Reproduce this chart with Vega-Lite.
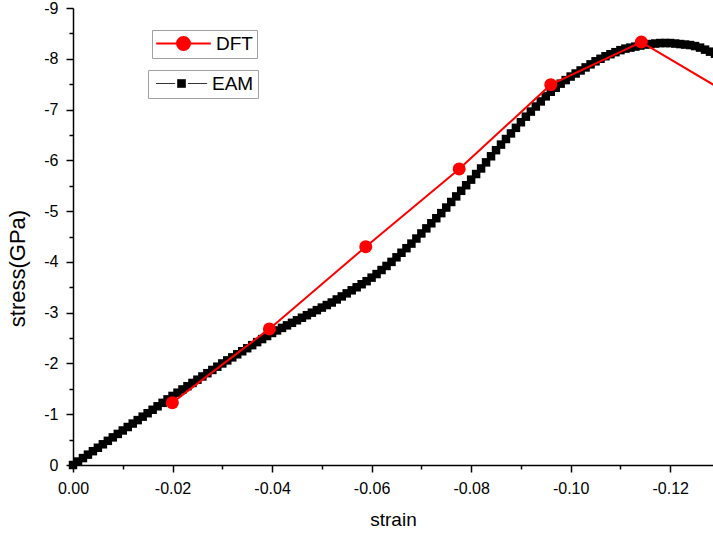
{
  "$schema": "https://vega.github.io/schema/vega-lite/v6.json",
  "width": 640,
  "height": 457,
  "autosize": {"type": "none"},
  "padding": {"left": 73, "top": 8, "right": 0, "bottom": 70},
  "background": "white",
  "config": {
    "view": {"stroke": null},
    "font": "Liberation Sans",
    "axis": {
      "domainColor": "#000", "domainWidth": 1.5, "tickColor": "#000", "tickWidth": 1.5,
      "labelColor": "#000", "labelFontSize": 16, "labelFont": "Liberation Sans",
      "titleFont": "Liberation Sans", "titleFontSize": 19, "titleFontWeight": "normal", "titleColor": "#000",
      "grid": false, "labelPadding": 8, "labelOverlap": false, "labelFlush": false
    }
  },
  "datasets": {
    "eam": [
      {"strain":0,"stress":0},{"strain":-0.001,"stress":-0.068},{"strain":-0.002,"stress":-0.136},{"strain":-0.003,"stress":-0.204},{"strain":-0.004,"stress":-0.272},{"strain":-0.005,"stress":-0.34},{"strain":-0.006,"stress":-0.408},{"strain":-0.007,"stress":-0.476},{"strain":-0.008,"stress":-0.544},{"strain":-0.009,"stress":-0.612},
      {"strain":-0.010,"stress":-0.68},{"strain":-0.011,"stress":-0.748},{"strain":-0.012,"stress":-0.816},{"strain":-0.013,"stress":-0.884},{"strain":-0.014,"stress":-0.952},{"strain":-0.015,"stress":-1.02},{"strain":-0.016,"stress":-1.088},{"strain":-0.017,"stress":-1.156},{"strain":-0.018,"stress":-1.224},{"strain":-0.019,"stress":-1.292},
      {"strain":-0.020,"stress":-1.36},{"strain":-0.021,"stress":-1.424},{"strain":-0.022,"stress":-1.488},{"strain":-0.023,"stress":-1.552},{"strain":-0.024,"stress":-1.616},{"strain":-0.025,"stress":-1.68},{"strain":-0.026,"stress":-1.744},{"strain":-0.027,"stress":-1.808},{"strain":-0.028,"stress":-1.872},{"strain":-0.029,"stress":-1.936},
      {"strain":-0.030,"stress":-2.0},{"strain":-0.031,"stress":-2.06},{"strain":-0.032,"stress":-2.12},{"strain":-0.033,"stress":-2.18},{"strain":-0.034,"stress":-2.24},{"strain":-0.035,"stress":-2.30},{"strain":-0.036,"stress":-2.36},{"strain":-0.037,"stress":-2.42},{"strain":-0.038,"stress":-2.48},{"strain":-0.039,"stress":-2.54},
      {"strain":-0.040,"stress":-2.60},{"strain":-0.041,"stress":-2.65},{"strain":-0.042,"stress":-2.70},{"strain":-0.043,"stress":-2.75},{"strain":-0.044,"stress":-2.80},{"strain":-0.045,"stress":-2.85},{"strain":-0.046,"stress":-2.90},{"strain":-0.047,"stress":-2.95},{"strain":-0.048,"stress":-3.00},{"strain":-0.049,"stress":-3.05},
      {"strain":-0.050,"stress":-3.10},{"strain":-0.051,"stress":-3.15},{"strain":-0.052,"stress":-3.20},{"strain":-0.053,"stress":-3.26},{"strain":-0.054,"stress":-3.32},{"strain":-0.055,"stress":-3.38},{"strain":-0.056,"stress":-3.44},{"strain":-0.057,"stress":-3.50},{"strain":-0.058,"stress":-3.56},{"strain":-0.059,"stress":-3.62},
      {"strain":-0.060,"stress":-3.69},{"strain":-0.061,"stress":-3.76},{"strain":-0.062,"stress":-3.84},{"strain":-0.063,"stress":-3.92},{"strain":-0.064,"stress":-4.00},{"strain":-0.065,"stress":-4.09},{"strain":-0.066,"stress":-4.18},{"strain":-0.067,"stress":-4.27},{"strain":-0.068,"stress":-4.36},{"strain":-0.069,"stress":-4.46},
      {"strain":-0.070,"stress":-4.56},{"strain":-0.071,"stress":-4.66},{"strain":-0.072,"stress":-4.76},{"strain":-0.073,"stress":-4.86},{"strain":-0.074,"stress":-4.96},{"strain":-0.075,"stress":-5.07},{"strain":-0.076,"stress":-5.18},{"strain":-0.077,"stress":-5.29},{"strain":-0.078,"stress":-5.40},{"strain":-0.079,"stress":-5.51},
      {"strain":-0.080,"stress":-5.62},{"strain":-0.081,"stress":-5.73},{"strain":-0.082,"stress":-5.84},{"strain":-0.083,"stress":-5.96},{"strain":-0.084,"stress":-6.08},{"strain":-0.085,"stress":-6.20},{"strain":-0.086,"stress":-6.31},{"strain":-0.087,"stress":-6.42},{"strain":-0.088,"stress":-6.53},{"strain":-0.089,"stress":-6.64},
      {"strain":-0.090,"stress":-6.75},{"strain":-0.091,"stress":-6.86},{"strain":-0.092,"stress":-6.96},{"strain":-0.093,"stress":-7.06},{"strain":-0.094,"stress":-7.16},{"strain":-0.095,"stress":-7.26},{"strain":-0.096,"stress":-7.35},{"strain":-0.097,"stress":-7.43},{"strain":-0.098,"stress":-7.51},{"strain":-0.099,"stress":-7.58},
      {"strain":-0.100,"stress":-7.65},{"strain":-0.101,"stress":-7.71},{"strain":-0.102,"stress":-7.77},{"strain":-0.103,"stress":-7.83},{"strain":-0.104,"stress":-7.89},{"strain":-0.105,"stress":-7.95},{"strain":-0.106,"stress":-8.00},{"strain":-0.107,"stress":-8.05},{"strain":-0.108,"stress":-8.09},{"strain":-0.109,"stress":-8.13},
      {"strain":-0.110,"stress":-8.17},{"strain":-0.111,"stress":-8.20},{"strain":-0.112,"stress":-8.22},{"strain":-0.113,"stress":-8.24},{"strain":-0.114,"stress":-8.26},{"strain":-0.115,"stress":-8.28},{"strain":-0.116,"stress":-8.29},{"strain":-0.117,"stress":-8.30},{"strain":-0.118,"stress":-8.31},{"strain":-0.119,"stress":-8.31},
      {"strain":-0.120,"stress":-8.31},{"strain":-0.121,"stress":-8.30},{"strain":-0.122,"stress":-8.29},{"strain":-0.123,"stress":-8.28},{"strain":-0.124,"stress":-8.27},{"strain":-0.125,"stress":-8.25},{"strain":-0.126,"stress":-8.22},{"strain":-0.127,"stress":-8.18},{"strain":-0.128,"stress":-8.14},{"strain":-0.129,"stress":-8.10},
      {"strain":-0.130,"stress":-8.05}
    ],
    "dft": [
      {"strain":-0.01996,"stress":-1.228},
      {"strain":-0.03946,"stress":-2.68},
      {"strain":-0.05883,"stress":-4.30},
      {"strain":-0.0776,"stress":-5.83},
      {"strain":-0.0960,"stress":-7.49},
      {"strain":-0.1142,"stress":-8.33},
      {"strain":-0.1328,"stress":-7.25}
    ]
  },
  "encoding": {
    "x": {
      "field": "strain", "type": "quantitative",
      "scale": {"domain": [-0.1286, 0], "reverse": true, "nice": false, "zero": false},
      "axis": {
        "title": "strain",
        "values": [0,-0.01,-0.02,-0.03,-0.04,-0.05,-0.06,-0.07,-0.08,-0.09,-0.1,-0.11,-0.12],
        "labelExpr": "abs(round(datum.value*100))%2==0 ? (datum.value==0 ? '0.00' : '-' + format(abs(datum.value), '.2f')) : ''",
        "tickSize": {"condition": {"test": "abs(round(datum.value*100))%2==0", "value": 7}, "value": 4},
        "titlePadding": 14
      }
    },
    "y": {
      "field": "stress", "type": "quantitative",
      "scale": {"domain": [-9, 0], "reverse": true, "nice": false, "zero": false},
      "axis": {
        "title": "stress(GPa)",
        "values": [0,-0.5,-1,-1.5,-2,-2.5,-3,-3.5,-4,-4.5,-5,-5.5,-6,-6.5,-7,-7.5,-8,-8.5,-9],
        "labelExpr": "round(datum.value*2)%2==0 ? (datum.value==0 ? '0' : '-' + format(abs(datum.value), 'd')) : ''",
        "tickSize": {"condition": {"test": "round(datum.value*2)%2==0", "value": 7}, "value": 4},
        "titleFontSize": 22,
        "titleX": -44, "titleY": 260, "titleAngle": -90, "titleBaseline": "bottom", "titleAlign": "center"
      }
    }
  },
  "layer": [
    {
      "data": {"name": "eam"},
      "mark": {"type": "point", "shape": "square", "filled": true, "size": 72, "opacity": 1},
      "encoding": {
        "color": {
          "datum": "EAM", "type": "nominal",
          "scale": {"domain": ["EAM"], "range": ["#000000"]},
          "legend": {
            "orient": "none", "legendX": 75, "legendY": 62, "title": null, "padding": 4,
            "strokeColor": "#a0a0a0", "fillColor": "white",
            "labelFontSize": 19, "labelColor": "#000", "labelFont": "Liberation Sans",
            "labelOffset": 21, "symbolOffset": 20, "symbolSize": 64,
            "symbolType": "M-6.4,0H-1.6M1.6,0H6.4M-1,-1H1V1H-1Z",
            "symbolStrokeColor": "#333", "symbolStrokeWidth": 1, "symbolFillColor": "#000",
            "encode": {"symbols": {"update": {"fill": {"value": "#000"}, "stroke": {"value": "#555"}, "strokeWidth": {"value": 0.8}, "strokeOpacity": {"value": 1}, "opacity": {"value": 1}, "shape": {"value": "M-6.4,0H-1.6M1.6,0H6.4M-1,-1H1V1H-1Z"}, "size": {"value": 64}}}}
          }
        }
      }
    },
    {
      "data": {"name": "dft"},
      "mark": {"type": "line", "strokeWidth": 2, "point": {"filled": true, "size": 169, "opacity": 1}},
      "encoding": {
        "color": {
          "datum": "DFT", "type": "nominal",
          "scale": {"domain": ["DFT"], "range": ["#ff0000"]},
          "legend": {
            "orient": "none", "legendX": 79, "legendY": 22, "title": null, "padding": 4,
            "strokeColor": "#a0a0a0", "fillColor": "white",
            "labelFontSize": 19, "labelColor": "#000", "labelFont": "Liberation Sans",
            "labelOffset": 23, "symbolOffset": 18, "symbolSize": 169,
            "symbolType": "M-4.2,0H4.2M-1,0A1,1,0,1,0,1,0A1,1,0,1,0,-1,0Z",
            "encode": {"symbols": {"update": {"fill": {"value": "#ff0000"}, "stroke": {"value": "#ff0000"}, "strokeWidth": {"value": 2}, "opacity": {"value": 1}, "shape": {"value": "M-4.2,0H4.2M-1,0A1,1,0,1,0,1,0A1,1,0,1,0,-1,0Z"}, "size": {"value": 169}}}}
          }
        }
      }
    }
  ],
  "resolve": {"scale": {"color": "independent"}}
}
